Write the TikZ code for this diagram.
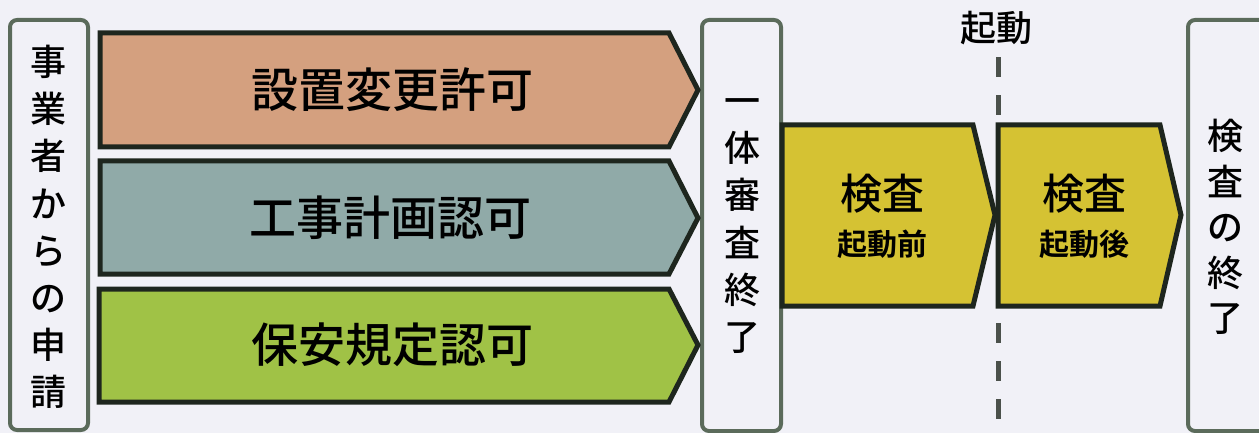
\documentclass[tikz,border=0pt]{standalone}
\usepackage{fontspec}
\setmainfont{Noto Sans CJK JP}[UprightFont=* Medium,BoldFont=* Bold]
\definecolor{paper}{HTML}{F1F1F7}
\definecolor{edge}{HTML}{1E261E}
\definecolor{frameline}{HTML}{5B6B5B}
\definecolor{permit}{HTML}{D4A07F}
\definecolor{works}{HTML}{90AAA8}
\definecolor{safety}{HTML}{A0C246}
\definecolor{inspect}{HTML}{D5C233}
\begin{document}
\begin{tikzpicture}[x=0.5pt,y=-0.5pt,line join=miter,
	flow/.style={draw=edge,line width=2.5pt},
	frame/.style={draw=frameline,line width=2pt,rounded corners=3.5pt},
	vlabel/.style={align=center,inner sep=0pt,font=\fontsize{18}{23.6}\selectfont},
	blabel/.style={inner sep=0pt,font=\fontsize{23.5}{24}\selectfont},
	ylabel/.style={inner sep=0pt,font=\fontsize{21}{21}\selectfont},
	ysub/.style={inner sep=0pt,font=\fontsize{15}{15}\selectfont\bfseries},
	startline/.style={draw=edge!80,line width=2.5pt,dash pattern=on 10pt off 9pt}]
	\fill[paper] (0,0) rectangle (1259,433);
	\useasboundingbox (0,0) rectangle (1259,433);
	\clip (0,0) rectangle (1259,433);
	% side frames
	\draw[frame] (10,20) rectangle (88,430);
	\draw[frame] (702,20) rectangle (781,431);
	\draw[frame] (1188,20) rectangle (1280,431);
	\node[vlabel] (applicant) at (49,227) {事\\業\\者\\か\\ら\\の\\申\\請};
	\node[vlabel] (review) at (742,226) {一\\体\\審\\査\\終\\了};
	\node[vlabel,font=\fontsize{18}{22.8}\selectfont] (finish) at (1225,227) {検\\査\\の\\終\\了};
	% start line
	\node[inner sep=0pt,font=\fontsize{18}{18}\selectfont] (kidou) at (996,28) {起動};
	\coordinate (lineend) at (998,440);
	\draw[startline] ([yshift=-6pt]kidou.south-|lineend) -- (lineend);
	% permit arrows
	\draw[flow,fill=permit] (100,33) -- (669,33) -- (698,90) -- (669,147) -- (100,147) -- cycle;
	\draw[flow,fill=works] (100,161) -- (669,161) -- (698,218) -- (669,274) -- (100,274) -- cycle;
	\draw[flow,fill=safety] (99,289) -- (669,289) -- (698,345) -- (669,402) -- (99,402) -- cycle;
	\node[blabel] (setup) at (392,90) {設置変更許可};
	\node[blabel] (plan) at (390,218) {工事計画認可};
	\node[blabel] (rules) at (392,345) {保安規定認可};
	% inspection arrows
	\draw[flow,fill=inspect] (782,125) -- (973,125) -- (995,215) -- (973,306) -- (782,306) -- cycle;
	\draw[flow,fill=inspect] (998,125) -- (1160,125) -- (1181,215) -- (1160,306) -- (998,306) -- cycle;
	\node[ylabel] (pre) at (882,194) {検査};
	\node[ysub] (presub) at (882,244) {起動前};
	\node[ylabel] (post) at (1084,194) {検査};
	\node[ysub] (postsub) at (1084,244) {起動後};
\end{tikzpicture}
\end{document}
